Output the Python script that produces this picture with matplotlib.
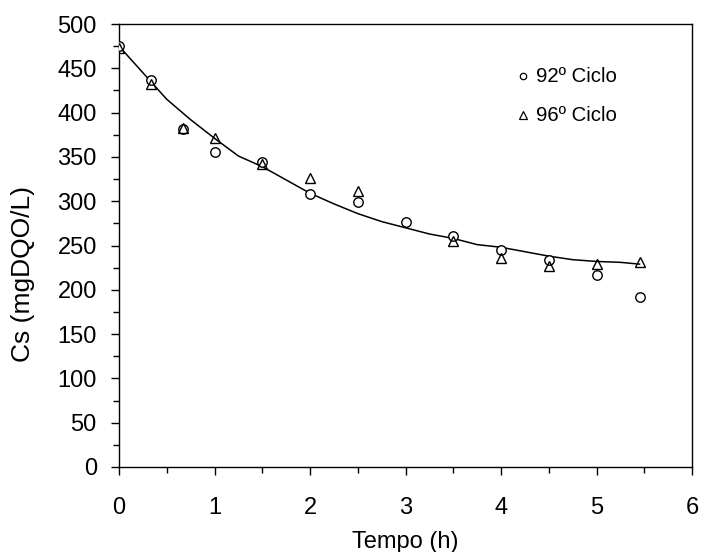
import matplotlib
matplotlib.use("Agg")
import matplotlib.pyplot as plt
from matplotlib.ticker import MultipleLocator

plt.rcParams['font.family'] = ['Liberation Sans', 'DejaVu Sans']

# Measured substrate concentration, cycle 92
t_92 = [0, 0.33, 0.67, 1.0, 1.5, 2.0, 2.5, 3.0, 3.5, 4.0, 4.5, 5.0, 5.45]
cs_92 = [475, 437, 382, 355, 344, 308, 299, 277, 261, 245, 234, 217, 192]

# Measured substrate concentration, cycle 96
t_96 = [0, 0.33, 0.67, 1.0, 1.5, 2.0, 2.5, 3.5, 4.0, 4.5, 5.0, 5.45]
cs_96 = [473, 432, 383, 371, 342, 326, 312, 255, 236, 227, 229, 231]

# Model curve
t_fit = [0, 0.25, 0.5, 0.75, 1.0, 1.25, 1.5, 1.75, 2.0, 2.25, 2.5, 2.75,
         3.0, 3.25, 3.5, 3.75, 4.0, 4.25, 4.5, 4.75, 5.0, 5.25, 5.45]
cs_fit = [475, 445, 415, 392, 371, 351, 339, 324, 309, 297, 286, 277,
          270, 263, 258, 251, 248, 243, 238, 234, 232, 231, 229]

fig = plt.figure(figsize=(7.01, 5.52), dpi=100)
ax = fig.add_axes([0.1698, 0.154, 0.8174, 0.8025])

ax.plot(t_fit, cs_fit, color='black', lw=1.1, zorder=2)
ax.plot(t_92, cs_92, ls='none', marker='o', ms=6.8, mfc='white', mec='black',
        mew=1.0, zorder=3)
ax.plot(t_96, cs_96, ls='none', marker='^', ms=7.2, mfc='none', mec='black',
        mew=1.0, zorder=4)

ax.set_xlim(0, 6)
ax.set_ylim(0, 500)
ax.xaxis.set_major_locator(MultipleLocator(1))
ax.xaxis.set_minor_locator(MultipleLocator(0.5))
ax.yaxis.set_major_locator(MultipleLocator(50))
ax.yaxis.set_minor_locator(MultipleLocator(25))
ax.tick_params(which='major', direction='out', length=6, width=1.0,
               labelsize=17, top=False, right=False)
ax.tick_params(which='minor', direction='out', length=4.5, width=1.0,
               top=False, right=False)
ax.tick_params(axis='x', which='major', pad=15.5)
ax.tick_params(axis='y', which='major', pad=10)
for s in ax.spines.values():
    s.set_linewidth(1.0)

ax.set_xlabel('Tempo (h)', fontsize=17, labelpad=8.6)
ax.set_ylabel('Cs (mgDQO/L)', fontsize=19)
ax.yaxis.set_label_coords(-0.1466, 0.435)

# Legend entries
ax.plot([0.7045], [0.8826], transform=ax.transAxes, marker='o', ms=4.6,
        mfc='white', mec='black', mew=0.9, ls='none', clip_on=False)
ax.text(0.728, 0.8826, '92º Ciclo', transform=ax.transAxes, fontsize=14.7,
        va='center', ha='left')
ax.plot([0.7045], [0.7946], transform=ax.transAxes, marker='^', ms=5.2,
        mfc='none', mec='black', mew=0.9, ls='none', clip_on=False)
ax.text(0.728, 0.7946, '96º Ciclo', transform=ax.transAxes, fontsize=14.7,
        va='center', ha='left')

fig.savefig('out.png', dpi=100)
